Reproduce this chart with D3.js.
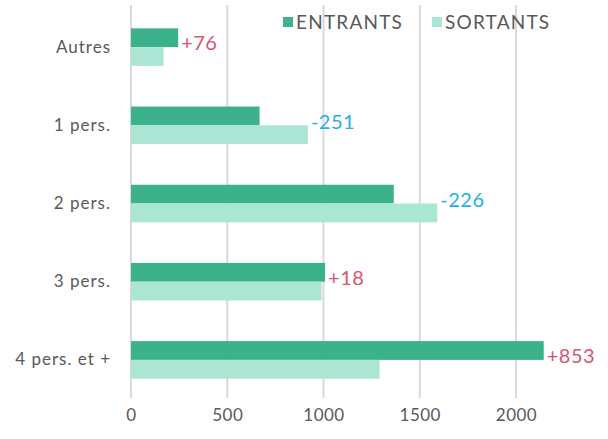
<!DOCTYPE html>
<html>
<head>
<meta charset="utf-8">
<script src="https://cdn.jsdelivr.net/npm/d3@7"></script>
<style>
  body { margin: 0; background: #fff; }
  svg { display: block; font-family: Lato, "DejaVu Sans", sans-serif; }
</style>
</head>
<body>
<div id="chart"></div>
<script>
// données
const categories = ["Autres", "1 pers.", "2 pers.", "3 pers.", "4 pers. et +"];
const entrants = [245, 668, 1365, 1008, 2144];
const sortants = [169, 919, 1591, 990, 1291];
const seriesNames = ["ENTRANTS", "SORTANTS"];
const xTicks = [0, 500, 1000, 1500, 2000];

const width = 608, height = 439;
const colors = ["#3bb28b", "#abe6d4"];

const svg = d3.select("#chart").append("svg")
  .attr("width", width)
  .attr("height", height);

const x = d3.scaleLinear().domain([0, 2000]).range([131, 516]);
const y = d3.scaleBand().domain(categories).range([8, 399])
  .paddingInner(0.52).paddingOuter(0.26);
const ySub = d3.scaleBand().domain(seriesNames).range([0, y.bandwidth()]);

// grille verticale
svg.append("g")
  .selectAll("line")
  .data(xTicks)
  .enter().append("line")
  .attr("x1", d => x(d)).attr("x2", d => x(d))
  .attr("y1", 5).attr("y2", 398)
  .attr("stroke", "#d9d9d9")
  .attr("stroke-width", 2);

// axe x (labels seulement)
const xAxis = svg.append("g")
  .attr("transform", "translate(0,398)")
  .call(d3.axisBottom(x).tickValues(xTicks).tickFormat(d3.format("d")).tickSize(0).tickPadding(11));
xAxis.select(".domain").remove();
xAxis.selectAll("text")
  .attr("font-size", "17px")
  .attr("font-family", "Lato, sans-serif")
  .attr("letter-spacing", "0.5px")
  .attr("fill", "#595959");

// axe y
const yAxis = svg.append("g")
  .attr("transform", "translate(111,0)")
  .call(d3.axisLeft(y).tickSize(0).tickPadding(0));
yAxis.select(".domain").remove();
yAxis.selectAll("text")
  .attr("font-size", "17px")
  .attr("font-family", "Lato, sans-serif")
  .attr("letter-spacing", "1px")
  .attr("fill", "#595959");

// barres
const rows = categories.map((c, i) => ({ cat: c, e: entrants[i], s: sortants[i] }));
const group = svg.append("g")
  .selectAll("g")
  .data(rows)
  .enter().append("g")
  .attr("transform", d => `translate(0,${y(d.cat)})`);

group.selectAll("rect")
  .data(d => [{ k: seriesNames[0], v: d.e }, { k: seriesNames[1], v: d.s }])
  .enter().append("rect")
  .attr("x", x(0))
  .attr("y", d => ySub(d.k))
  .attr("width", d => x(d.v) - x(0))
  .attr("height", ySub.bandwidth())
  .attr("fill", (d, i) => colors[i]);

// écarts
group.append("text")
  .attr("x", d => x(Math.max(d.e, d.s)) + 3)
  .attr("y", ySub.bandwidth() * 0.8)
  .attr("dy", "0.35em")
  .attr("font-size", "20px")
  .attr("letter-spacing", "0.5px")
  .attr("fill", d => d.e - d.s >= 0 ? "#d5566f" : "#1eb0e6")
  .text(d => (d.e - d.s >= 0 ? "+" : "") + (d.e - d.s));

// légende
const legend = svg.append("g")
  .selectAll("g")
  .data(seriesNames)
  .enter().append("g")
  .attr("transform", (d, i) => `translate(${i === 0 ? 283 : 432},14)`);
legend.append("rect")
  .attr("width", 10).attr("height", 10)
  .attr("y", 3)
  .attr("fill", (d, i) => colors[i]);
legend.append("text")
  .attr("x", 13).attr("y", 8)
  .attr("dy", "0.35em")
  .attr("font-size", "19px")
  .attr("letter-spacing", "1.2px")
  .attr("fill", "#595959")
  .text(d => d);
</script>
</body>
</html>
